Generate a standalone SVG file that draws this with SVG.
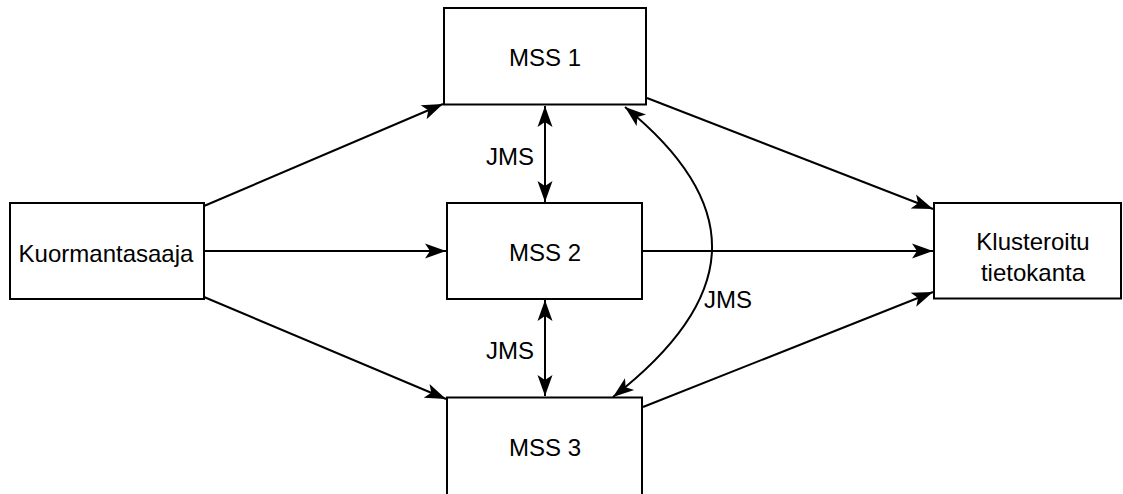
<svg xmlns="http://www.w3.org/2000/svg" width="1123" height="494" viewBox="0 0 1123 494">
<defs>
<style>
.box{fill:#fff;stroke:#000;stroke-width:2}
.lbl{font-family:"Liberation Sans",Arial,Helvetica,sans-serif;font-size:24px;fill:#000}
.c{text-anchor:middle}
.edge{fill:none;stroke:#000;stroke-width:2}
</style>
<marker id="ah" markerUnits="userSpaceOnUse" markerWidth="24" markerHeight="18" viewBox="-22 -9 24 18" refX="0" refY="0" orient="auto-start-reverse">
<path d="M0,0 L-21,-7.5 L-16,0 L-21,7.5 Z" fill="#000"/>
</marker>
</defs>
<rect width="1123" height="494" fill="#fff"/>
<g id="connectors">
<path class="edge" d="M204,206 L443,104" marker-end="url(#ah)"/>
<path class="edge" d="M204,251 L446,251" marker-end="url(#ah)"/>
<path class="edge" d="M204,297 L446,399" marker-end="url(#ah)"/>
<path class="edge" d="M647,98 L933,209" marker-end="url(#ah)"/>
<path class="edge" d="M643,251 L933,251" marker-end="url(#ah)"/>
<path class="edge" d="M643,407 L933,292" marker-end="url(#ah)"/>
<path class="edge" d="M545,106 L545,202" marker-start="url(#ah)" marker-end="url(#ah)"/>
<path class="edge" d="M545,300 L545,396" marker-start="url(#ah)" marker-end="url(#ah)"/>
<path class="edge" d="M625,107 C743,203 743,296 613,397" marker-start="url(#ah)" marker-end="url(#ah)"/>
<text class="lbl" x="534" y="165" text-anchor="end">JMS</text>
<text class="lbl" x="534" y="359" text-anchor="end">JMS</text>
<text class="lbl" x="704" y="308">JMS</text>
</g>
<g id="mss1">
<rect class="box" x="444" y="8" width="202" height="96.5"/>
<text class="lbl c" x="545" y="66">MSS 1</text>
</g>
<g id="mss2">
<rect class="box" x="447" y="203" width="195" height="96"/>
<text class="lbl c" x="545" y="261">MSS 2</text>
</g>
<g id="mss3">
<rect class="box" x="447" y="397.5" width="195" height="110"/>
<text class="lbl c" x="545" y="456">MSS 3</text>
</g>
<g id="kuormantasaaja">
<rect class="box" x="10" y="203" width="194" height="96"/>
<text class="lbl c" x="106" y="262">Kuormantasaaja</text>
</g>
<g id="klusteroitu">
<rect class="box" x="934" y="203" width="187" height="95.5"/>
<text class="lbl c" x="1033" y="250">Klusteroitu</text>
<text class="lbl c" x="1033" y="281">tietokanta</text>
</g>
</svg>
